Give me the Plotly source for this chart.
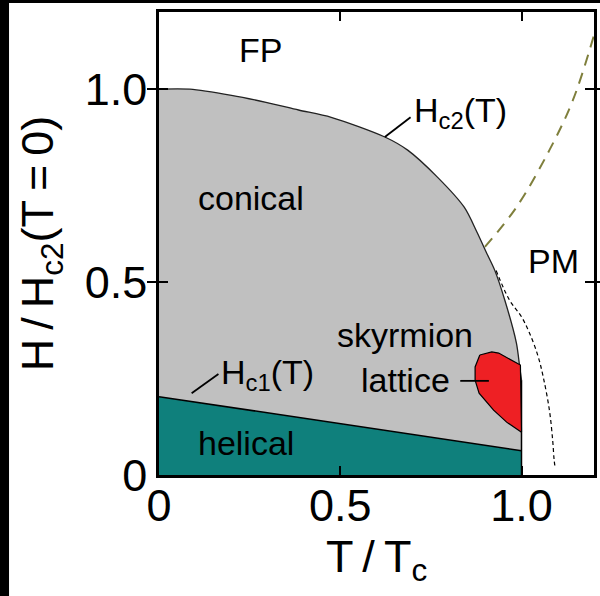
import plotly.graph_objects as go

# ---------------- data ----------------
hc2_T = [0.0, 0.085, 0.2, 0.295, 0.385, 0.475, 0.623, 0.686, 0.768, 0.842,
         0.877, 0.904, 0.926, 0.954, 0.986, 0.995, 1.0]
hc2_H = [1.0, 1.0, 0.984, 0.966, 0.946, 0.927, 0.876, 0.842, 0.772, 0.694,
         0.630, 0.575, 0.531, 0.453, 0.342, 0.280, 0.246]

hc1_T = [0.0, 1.0]
hc1_H = [0.203, 0.063]

sky_T = [0.885, 0.918, 0.937, 0.997, 1.0, 0.959, 0.923, 0.883, 0.872, 0.872, 0.885]
sky_H = [0.311, 0.319, 0.316, 0.285, 0.111, 0.137, 0.168, 0.212, 0.246, 0.280, 0.311]

dash_T = [0.93, 0.967, 1.0, 1.022, 1.045, 1.060, 1.077, 1.086, 1.090, 1.093]
dash_H = [0.53, 0.453, 0.41, 0.368, 0.31, 0.254, 0.168, 0.09, 0.039, 0.018]

olive_T = [0.899, 0.986, 1.077, 1.142, 1.2]
olive_H = [0.591, 0.694, 0.842, 0.972, 1.14]

lead_hc2_T = [0.623, 0.694]
lead_hc2_H = [0.876, 0.927]
lead_hc1_T = [0.090, 0.164]
lead_hc1_H = [0.212, 0.262]
lead_sky_T = [0.831, 0.910]
lead_sky_H = [0.244, 0.244]

tick_vals = [0, 0.5, 1.0]
tick_text = ["0", "0.5", "1.0"]

labels = [
    ("FP", 0.281, 1.101),
    ("conical", 0.254, 0.718),
    ("PM", 1.087, 0.554),
    ("skyrmion", 0.679, 0.363),
    ("lattice", 0.679, 0.246),
    ("helical", 0.240, 0.083),
]
curve_labels = [
    ("H<sub>c2</sub>(T)", 0.833, 0.940),
    ("H<sub>c1</sub>(T)", 0.298, 0.260),
]

FONT = "Liberation Sans, Arial, sans-serif"
GRAY = "#c0c0c0"
TEAL = "#0f807c"
RED = "#ee2024"
OLIVE = "#7f7f3c"

fig = go.Figure()

teal_T = [hc1_T[0], hc1_T[0], hc1_T[1], hc1_T[1]]
teal_H = [0.0, hc1_H[0], hc1_H[1], 0.0]
fig.add_trace(go.Scatter(x=teal_T, y=teal_H, fill="toself", fillcolor=TEAL,
                         mode="none", hoverinfo="skip", showlegend=False))
fig.add_trace(go.Scatter(x=hc1_T, y=hc1_H, mode="lines", line=dict(width=0, color=GRAY),
                         hoverinfo="skip", showlegend=False))
fig.add_trace(go.Scatter(x=hc2_T, y=hc2_H, mode="lines", fill="tonexty", fillcolor=GRAY,
                         line=dict(color="#222222", width=1.3, shape="spline", smoothing=0.8),
                         hoverinfo="skip", showlegend=False))
fig.add_trace(go.Scatter(x=[hc2_T[-1], hc2_T[-1]], y=[hc2_H[-1], 0.0], mode="lines",
                         line=dict(color="black", width=1.5),
                         hoverinfo="skip", showlegend=False))
fig.add_trace(go.Scatter(x=hc1_T, y=hc1_H, mode="lines",
                         line=dict(color="black", width=1.5),
                         hoverinfo="skip", showlegend=False))
fig.add_trace(go.Scatter(x=sky_T, y=sky_H, fill="toself", fillcolor=RED, mode="lines",
                         line=dict(color="black", width=1.2),
                         hoverinfo="skip", showlegend=False))
fig.add_trace(go.Scatter(x=dash_T, y=dash_H, mode="lines",
                         line=dict(color="black", width=1.2, dash="4px,3px", shape="spline"),
                         hoverinfo="skip", showlegend=False))
fig.add_trace(go.Scatter(x=olive_T, y=olive_H, mode="lines",
                         line=dict(color=OLIVE, width=2, dash="11px,8px", shape="spline"),
                         hoverinfo="skip", showlegend=False))
for lt, lh in [(lead_hc2_T, lead_hc2_H), (lead_hc1_T, lead_hc1_H), (lead_sky_T, lead_sky_H)]:
    fig.add_trace(go.Scatter(x=lt, y=lh, mode="lines", line=dict(color="black", width=1.8),
                             hoverinfo="skip", showlegend=False))
# invisible trace on the overlay axis that carries the x tick labels
fig.add_trace(go.Scatter(x=[0], y=[0], xaxis="x2", mode="markers", marker=dict(opacity=0),
                         hoverinfo="skip", showlegend=False))

for txt, t, h in labels + curve_labels:
    fig.add_annotation(x=t, y=h, xref="x", yref="y", text=txt, showarrow=False,
                       font=dict(family=FONT, size=34, color="black"),
                       xanchor="center", yanchor="middle")

tick_style = dict(ticks="inside", ticklen=9, tickwidth=2, tickcolor="black",
                  showline=True, linewidth=2.5, linecolor="black", mirror="allticks")
common = dict(range=[0, 1.2], tickvals=tick_vals, ticktext=tick_text,
              showgrid=False, zeroline=False,
              tickfont=dict(family=FONT, size=45, color="black"))

fig.update_layout(
    width=600, height=596,
    margin=dict(l=159, r=3, t=12, b=121),
    paper_bgcolor="black", plot_bgcolor="white",
    font=dict(family=FONT, color="black"),
    xaxis=dict(**common, **tick_style, showticklabels=False),
    xaxis2=dict(**common, overlaying="x", side="bottom", anchor="free", position=0,
                ticks="", showline=False,
                title=dict(text="T\u2009/\u2009T<sub>c</sub>",
                           font=dict(family=FONT, size=45), standoff=10)),
    yaxis=dict(**common, **tick_style,
               title=dict(text="H\u2009/\u2009H<sub>c2</sub>(T\u2009=\u20090)",
                          font=dict(family=FONT, size=45), standoff=17)),
    shapes=[
        dict(type="rect", xref="paper", yref="paper",
             x0=(8 - 159) / 438, x1=1.05, y0=-0.3, y1=(475 - 3) / 463,
             fillcolor="white", line=dict(width=0), layer="below"),
    ],
)

fig.write_html("out.html")
